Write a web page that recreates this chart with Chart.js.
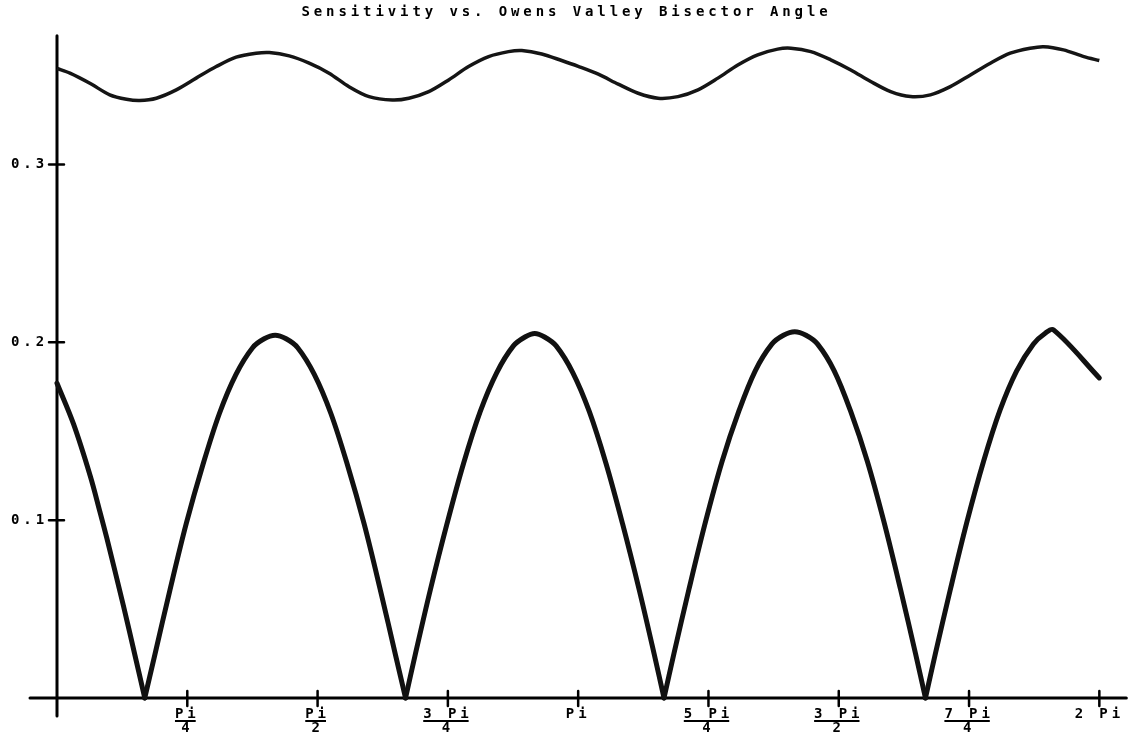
<!DOCTYPE html>
<html>
<head>
<meta charset="utf-8">
<title>Sensitivity vs. Owens Valley Bisector Angle</title>
<script src="https://cdn.jsdelivr.net/npm/chart.js@4.4.1/dist/chart.umd.min.js"></script>
<style>
    html, body { margin: 0; padding: 0; background: #fff; }
    #wrap { width: 1133px; height: 746px; position: relative; }
</style>
</head>
<body>
<div id="wrap"><canvas id="sensChart"></canvas></div>
<script>
// bisector angle (rad) and sensitivity
const angleLower = [
    0, 0.1, 0.2, 0.258, 0.3, 0.4, 0.47, 0.529,
    0.589, 0.679, 0.779, 0.879, 0.979, 1.079, 1.179, 1.249, 1.315, 1.381, 1.451, 1.551, 1.651, 1.751, 1.851, 1.951, 2.041, 2.101,
    2.161, 2.251, 2.351, 2.451, 2.551, 2.651, 2.751, 2.821, 2.880, 2.939, 3.009, 3.109, 3.209, 3.309, 3.409, 3.509, 3.599, 3.659,
    3.719, 3.809, 3.909, 4.009, 4.109, 4.209, 4.309, 4.379, 4.447, 4.515, 4.585, 4.685, 4.785, 4.885, 4.985, 5.085, 5.175, 5.235,
    5.295, 5.385, 5.485, 5.585, 5.685, 5.785, 5.885, 5.955, 6.007, 6.283
];
const sensLower = [
    0.177, 0.154, 0.125, 0.105, 0.090, 0.052, 0.024, 0,
    0.024, 0.060, 0.098, 0.131, 0.160, 0.182, 0.197, 0.202, 0.204, 0.202, 0.197, 0.182, 0.160, 0.131, 0.098, 0.060, 0.024, 0,
    0.025, 0.061, 0.098, 0.132, 0.161, 0.183, 0.198, 0.203, 0.205, 0.203, 0.198, 0.183, 0.161, 0.132, 0.098, 0.061, 0.025, 0,
    0.025, 0.061, 0.099, 0.133, 0.161, 0.184, 0.199, 0.204, 0.206, 0.204, 0.199, 0.184, 0.161, 0.133, 0.099, 0.061, 0.025, 0,
    0.025, 0.061, 0.099, 0.133, 0.162, 0.184, 0.199, 0.205, 0.207, 0.180
];

const angleUpper = [
    0, 0.078, 0.198, 0.318, 0.419, 0.499, 0.599, 0.719, 0.839, 0.960, 1.080, 1.200, 1.280, 1.400, 1.520, 1.640, 1.760, 1.881,
    2.021, 2.121, 2.241, 2.361, 2.481, 2.602, 2.722, 2.802, 2.922, 3.042, 3.142, 3.263, 3.383, 3.503, 3.623, 3.743, 3.864,
    3.984, 4.104, 4.224, 4.344, 4.424, 4.544, 4.664, 4.785, 4.905, 5.025, 5.145, 5.265, 5.385, 5.506, 5.626, 5.746, 5.866,
    5.947, 6.067, 6.190, 6.283
];
const sensUpper = [
    0.354, 0.3514, 0.3457, 0.3392, 0.3367, 0.336, 0.3373, 0.342, 0.3486, 0.3551, 0.3604, 0.3626, 0.363, 0.3611, 0.357, 0.3514, 0.3438, 0.3382,
    0.3363, 0.3373, 0.341, 0.3476, 0.3551, 0.3607, 0.3635, 0.3641, 0.3622, 0.3585, 0.3552, 0.3508, 0.3452, 0.3401, 0.3373, 0.3382, 0.342,
    0.3486, 0.356, 0.3617, 0.3649, 0.3654, 0.3635, 0.3589, 0.3532, 0.3467, 0.341, 0.3382, 0.3392, 0.3438, 0.3504, 0.357, 0.3626, 0.3654,
    0.3663, 0.3645, 0.3607, 0.3585
];

const xTickValues = [0.7854, 1.5708, 2.3562, 3.1416, 3.9270, 4.7124, 5.4978, 6.2832];
const xTickLabels = [['Pi', '4'], ['Pi', '2'], ['3 Pi', '4'], 'Pi', ['5 Pi', '4'], ['3 Pi', '2'], ['7 Pi', '4'], '2 Pi'];
const yTickValues = [0.1, 0.2, 0.3];
const yTickLabels = ['0.1', '0.2', '0.3'];

const FONT = '"DejaVu Sans Mono", "Liberation Mono", monospace';
const FONT_SIZE = 14;
const SPACING = 3.9;

document.addEventListener('DOMContentLoaded', function() {
    // typewriter look: wide letter spacing, plain black axes drawn through the scales
    const typewriter = {
        id: 'typewriter',
        beforeUpdate(chart) { chart.ctx.letterSpacing = SPACING + 'px'; },
        beforeDraw(chart) { chart.ctx.letterSpacing = SPACING + 'px'; },
        beforeDatasetsDraw(chart) {
            const ctx = chart.ctx;
            const xs = chart.scales.x;
            const ys = chart.scales.y;
            const x0 = xs.getPixelForValue(0);
            const y0 = ys.getPixelForValue(0);
            ctx.save();
            ctx.strokeStyle = '#000';
            ctx.lineCap = 'round';
            ctx.lineWidth = 3;
            ctx.beginPath();
            ctx.moveTo(x0, chart.chartArea.top);
            ctx.lineTo(x0, y0 + 18);
            ctx.moveTo(x0 - 27, y0);
            ctx.lineTo(xs.getPixelForValue(6.2832) + 27, y0);
            ctx.stroke();

            ctx.lineWidth = 2.5;
            ctx.beginPath();
            yTickValues.forEach(v => {
                const py = ys.getPixelForValue(v);
                ctx.moveTo(x0 - 8, py);
                ctx.lineTo(x0 + 7, py);
            });
            xTickValues.forEach(v => {
                const px = xs.getPixelForValue(v);
                ctx.moveTo(px, y0 - 7);
                ctx.lineTo(px, y0 + 8);
            });
            ctx.stroke();
            ctx.restore();
        },
        afterDraw(chart) {
            // underline the numerators of the fraction labels
            const ctx = chart.ctx;
            const xs = chart.scales.x;
            const y0 = chart.scales.y.getPixelForValue(0);
            ctx.save();
            ctx.font = 'bold ' + FONT_SIZE + 'px ' + FONT;
            ctx.letterSpacing = SPACING + 'px';
            ctx.strokeStyle = '#000';
            ctx.lineWidth = 2;
            xTickValues.forEach((v, i) => {
                const lab = xTickLabels[i];
                if (!Array.isArray(lab)) return;
                const px = xs.getPixelForValue(v);
                const w = ctx.measureText(lab[0]).width - SPACING;
                const left = px - (w + SPACING) / 2;
                ctx.beginPath();
                ctx.moveTo(left, y0 + 23);
                ctx.lineTo(left + w, y0 + 23);
                ctx.stroke();
            });
            ctx.restore();
        }
    };

    // split the lower curve at its zeros so every arch is smoothed on its own
    // and the cusps stay sharp
    const lowerSegments = [];
    let seg = [];
    angleLower.forEach((a, i) => {
        seg.push({ x: a, y: sensLower[i] });
        if (sensLower[i] === 0 && i > 0) {
            lowerSegments.push(seg);
            seg = [{ x: a, y: 0 }];
        }
    });
    lowerSegments.push(seg);

    const datasets = [{
        label: 'upper',
        data: angleUpper.map((a, i) => ({ x: a, y: sensUpper[i] })),
        borderColor: '#151515',
        borderWidth: 3.5,
        pointRadius: 0,
        tension: 0.3,
        clip: false
    }];
    lowerSegments.forEach((s, k) => {
        datasets.push({
            label: 'lower ' + k,
            data: s,
            borderColor: '#111',
            borderWidth: 5,
            borderCapStyle: 'round',
            pointRadius: 0,
            tension: 0.35,
            clip: false
        });
    });

    const ctx = document.getElementById('sensChart').getContext('2d');
    new Chart(ctx, {
        type: 'line',
        data: { datasets: datasets },
        options: {
            responsive: true,
            maintainAspectRatio: false,
            animation: false,
            layout: { padding: 0 },
            plugins: {
                legend: { display: false },
                tooltip: { enabled: false },
                title: {
                    display: true,
                    text: 'Sensitivity vs. Owens Valley Bisector Angle',
                    color: '#000',
                    font: { family: FONT, size: FONT_SIZE, weight: 'bold', lineHeight: 1.2 },
                    padding: { top: 4, bottom: 15 }
                }
            },
            scales: {
                x: {
                    type: 'linear',
                    min: 0,
                    max: 6.4634,
                    grid: { display: false, drawTicks: false },
                    border: { display: false },
                    afterBuildTicks: scale => { scale.ticks = xTickValues.map(v => ({ value: v })); },
                    afterFit: scale => { scale.height = 48; },
                    ticks: {
                        autoSkip: false,
                        maxRotation: 0,
                        padding: 9,
                        color: '#000',
                        font: { family: FONT, size: FONT_SIZE, weight: 'bold', lineHeight: 1.0 },
                        callback: (value, index) => xTickLabels[index]
                    }
                },
                y: {
                    min: 0,
                    max: 0.3724,
                    grid: { display: false, drawTicks: false },
                    border: { display: false },
                    afterBuildTicks: scale => { scale.ticks = yTickValues.map(v => ({ value: v })); },
                    afterFit: scale => { scale.width = 57; },
                    ticks: {
                        autoSkip: false,
                        padding: 9,
                        color: '#000',
                        font: { family: FONT, size: FONT_SIZE, weight: 'bold' },
                        callback: (value, index) => yTickLabels[index]
                    }
                }
            }
        },
        plugins: [typewriter]
    });
});
</script>
</body>
</html>
